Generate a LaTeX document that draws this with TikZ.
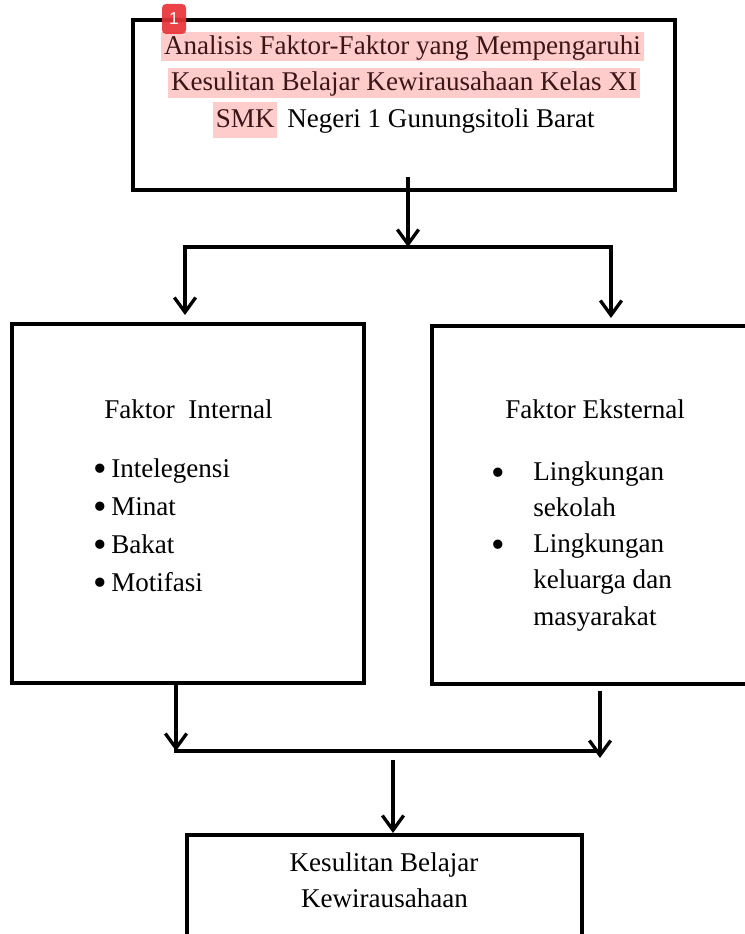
\documentclass[tikz,border=0pt]{standalone}
\usepackage{fontspec}
\setmainfont{Liberation Serif}
\newfontfamily\badgefont{Liberation Sans}
\usetikzlibrary{arrows.meta,positioning}

\definecolor{hlpink}{RGB}{255,204,204}
\definecolor{hltext}{RGB}{60,22,22}
\definecolor{badgered}{RGB}{232,50,55}
\newcommand\dfont{\fontsize{20.3}{27.5}\selectfont}
\newcommand\bulfont{\fontsize{29}{29}\selectfont}

\tikzset{
	box/.style={draw, line width=3pt, rectangle, inner sep=0pt},
	txt/.style={inner sep=0pt, font=\dfont},
	dot/.style={inner sep=0pt, font=\bulfont},
	hl/.style={txt, fill=hlpink, text=hltext, inner xsep=2pt, text height=17.25pt, text depth=4.5pt},
	arr/.style={line width=2.5pt, -{Straight Barb[length=11pt, width=16pt]}},
	ln/.style={line width=2.5pt, line cap=rect},
	badge/.style={fill=badgered, fill opacity=0.92, text opacity=1, text=white, rounded corners=3pt, minimum width=18pt, minimum height=22.5pt, inner sep=0pt, font=\badgefont\fontsize{13}{13}\selectfont}
}

\begin{document}
\begin{tikzpicture}[x=0.75pt, y=-0.75pt]
	\useasboundingbox (0,0) rectangle (745,934);
	
	\node[box, minimum width=406.5pt, minimum height=127.5pt](TOP) at (404,105){};
	\node[box, minimum width=264pt, minimum height=269.25pt](INT) at (188,503.5){};
	\node[box, minimum width=246pt, minimum height=268.5pt](EKS) at (596,505){};
	\node[box, minimum width=296.25pt, minimum height=75.4pt](HSL) at (384.5,885.25){};
	
	\node[hl, anchor=base](T1) at (402.5,55){Analisis Faktor-Faktor yang Mempengaruhi};
	\node[hl, anchor=base, text depth=5.25pt](T2) at (404,91){Kesulitan Belajar Kewirausahaan Kelas XI};
	\node[hl, anchor=base west, text height=19.5pt, text depth=8pt](T3a) at (213,127.7){SMK};
	\node[txt, anchor=base west](T3b) at (287,127.7){Negeri 1 Gunungsitoli Barat};
	
	\node[txt, anchor=base west](INTt) at (104,418){Faktor~~Internal};
	\foreach \t [count=\i] in {Intelegensi, Minat, Bakat, Motifasi}{
		\node[dot, anchor=base](INTb\i) at (100,{481+38*(\i-1)}){•};
		\node[txt, anchor=base west](INT\i) at (111,{477+38*(\i-1)}){\t};
	}
	
	\node[txt, anchor=base west](EKSt) at (505,418){Faktor Eksternal};
	\node[dot, anchor=base](EKSb1) at (498,485){•};
	\node[dot, anchor=base](EKSb2) at (498,557.5){•};
	\foreach \t [count=\i] in {Lingkungan, sekolah, Lingkungan, keluarga dan, masyarakat}
		\node[txt, anchor=base west](EKS\i) at (533,{480+36.25*(\i-1)}){\t};
	
	\node[txt, anchor=base](H1) at (384,871){Kesulitan Belajar};
	\node[txt, anchor=base](H2) at (384.5,907){Kewirausahaan};
	
	\coordinate(TS) at (408,177);
	\coordinate(TJ) at (408,247);
	\coordinate(TL) at (185,247);
	\coordinate(TR) at (611,247);
	\coordinate(TLe) at (185,315);
	\coordinate(TRe) at (611,318);
	
	\draw[ln] (TL) -- (TR);
	\draw[arr] (TS) -- (TJ);
	\draw[arr] (TL) -- (TLe);
	\draw[arr] (TR) -- (TRe);
	
	\coordinate(BL) at (176,751);
	\coordinate(BR) at (600,751);
	\coordinate(RS) at (600,691);
	\coordinate(RE) at (600,758);
	\coordinate(MS) at (393,760);
	
	\draw[ln] (BL) -- (BR);
	\draw[arr] (INT.south -| BL) -- (BL);
	\draw[arr] (RS) -- (RE);
	\draw[arr] (MS) -- (HSL.north -| MS);
	
	\node[badge](MARK) at (174,19){1};
\end{tikzpicture}
\end{document}
